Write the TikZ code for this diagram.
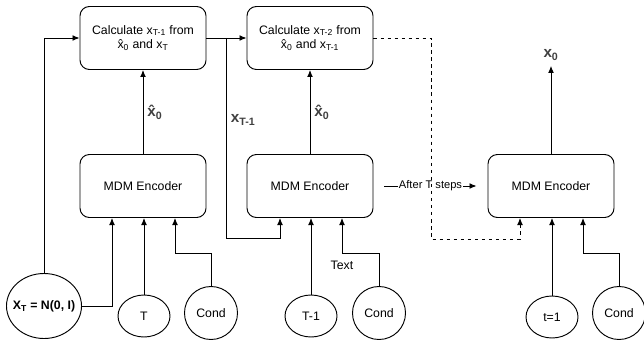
\documentclass[tikz,border=0pt]{standalone}
\usepackage{fontspec}
\setmainfont{Liberation Sans}
\usetikzlibrary{shapes.geometric,arrows.meta,calc}

\begin{document}
\begin{tikzpicture}[x=0.03cm,y=-0.03cm,font=\fontsize{10.5}{12.6}\selectfont,line width=0.8pt,>={Latex[length=6pt,width=5pt]}]
\tikzstyle{block}=[draw,rounded corners=8pt,minimum width=3.78cm,minimum height=1.89cm,align=center]
\tikzstyle{oval}=[draw,ellipse,inner sep=0pt,minimum width=1.56cm,minimum height=1.26cm]
\tikzstyle{cond}=[draw,circle,inner sep=0pt,minimum size=1.59cm]
\tikzstyle{lbl}=[font=\fontsize{13}{15}\selectfont\bfseries,text=black!75]
\useasboundingbox (0,0) rectangle (644,340);
\node [block] (calc1) at (143,38) {Calculate x\textsubscript{T-1} from\\x̂\textsubscript{0} and x\textsubscript{T}};
\node [block] (calc2) at (310,38) {Calculate x\textsubscript{T-2} from\\x̂\textsubscript{0} and x\textsubscript{T-1}};
\node [block] (enc1) at (143,186) {MDM Encoder};
\node [block] (enc2) at (310,186) {MDM Encoder};
\node [block] (enc3) at (551,186) {MDM Encoder};
\node [draw,ellipse,inner sep=0pt,minimum width=2.25cm,minimum height=1.95cm] (xT) at (44,306) {\makebox[0pt]{\bfseries X\textsubscript{T} = N(0, I)}};
\node [oval] (t1) at (144,316) {T};
\node [cond] (cond1) at (211,313) {Cond};
\node [oval] (t2) at (311,316) {T-1};
\node [cond] (cond2) at (379,313) {Cond};
\node [oval] (t3) at (552,317) {t=1};
\node [cond] (cond3) at (619,313) {Cond};
\node [lbl] (x0) at (551,55) {x\textsubscript{0}};
\coordinate (s) at ($(calc1.east)!0.5!(calc2.west)$);
\draw [->] (xT.north) |- (calc1.west);
\draw [->] (xT.east) -| ($(enc1.south)+(-31,0)$);
\draw [->] (t1.north) -- (t1.north |- enc1.south);
\draw [->] (cond1.north) -- ++(0,-33) -| ($(enc1.south)+(32,0)$);
\draw [->] (enc1) -- node [lbl,right] {x̂\textsubscript{0}} (calc1);
\draw [->] (calc1) -- (calc2);
\draw [->] (s) -- ++(0,200) -| ($(enc2.south)+(-30,0)$);
\path (s) ++(0,82) node [lbl,right] {x\textsubscript{T-1}};
\draw [->] (t2.north) -- (t2.north |- enc2.south);
\draw [->] (cond2.north) -- ++(0,-33) -| node [pos=0.5,below=3pt] {Text} ($(enc2.south)+(32,0)$);
\draw [->] (enc2) -- node [lbl,right] {x̂\textsubscript{0}} (calc2);
\draw [->] (enc2.east) ++(11,0) coordinate (a) -- node [fill=white,inner sep=1pt,font=\fontsize{9.5}{11}\selectfont] {After T steps} ($(enc3.west)+(-11,0)$);
\draw [dashed,->] (calc2.east) -- ++(58,0) |- ($(enc3.south)+(-31,21)$) -- ($(enc3.south)+(-31,0)$);
\draw [->] (t3.north) -- (t3.north |- enc3.south);
\draw [->] (cond3.north) -- ++(0,-33) -| ($(enc3.south)+(32,0)$);
\draw [->,shorten >=1pt] (enc3) -- (x0);
\end{tikzpicture}
\end{document}
